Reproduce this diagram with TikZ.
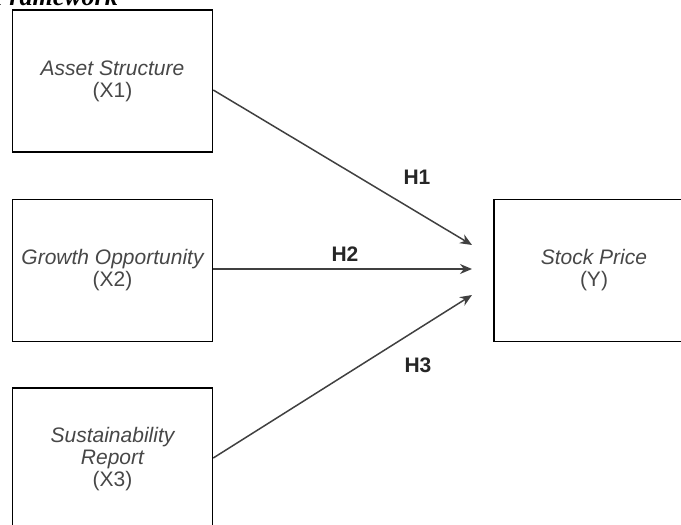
\documentclass[tikz,border=0pt]{standalone}
\usepackage{fontspec}
\setmainfont{Liberation Sans}
\newfontfamily\titlefont{Liberation Serif}
\usetikzlibrary{arrows.meta}

\begin{document}
\begin{tikzpicture}[x=1pt, y=-1pt, >={Stealth[length=12pt,width=10pt]},
  block/.style={draw, line width=1.5pt, minimum width=200pt, minimum height=142pt, align=center,
    text=black!72, font=\itshape\fontsize{21}{22}\selectfont},
  hyp/.style={font=\bfseries\fontsize{21}{23}\selectfont, text=black!85},
  link/.style={->, line width=1.5pt, color=black!75}]

  \useasboundingbox (0,0) rectangle (681,525);
  \clip (0,0) rectangle (681,525);

  % Heading (cut off at the top)
  \node[anchor=base east, inner sep=0pt, font=\titlefont\bfseries\itshape\fontsize{26}{28}\selectfont] (title) at (118,5) {Framework};

  % Independent variables
  \node[block] (X1) at (112.5,81) {Asset Structure\\\upshape(X1)};
  \node[block] (X2) at (112.5,270.5) {Growth Opportunity\\\upshape(X2)};
  \node[block] (X3) at (112.5,459) {Sustainability\\Report\\\upshape(X3)};

  % Dependent variable
  \node[block] (Y) at (594,270.5) {Stock Price\\\upshape(Y)};

  % Arrow ends
  \coordinate (T1) at (472,245);
  \coordinate (T2) at (472,269);
  \coordinate (T3) at (472,295);

  % Hypotheses
  \draw[link] ([yshift=-9pt]X1.east) -- (T1);
  \draw[link] ([yshift=1.5pt]X2.east) -- (T2);
  \draw[link] ([yshift=1pt]X3.east) -- (T3);

  % Labels
  \node[hyp] (H1) at (417,177) {H1};
  \node[hyp] (H2) at (345,254) {H2};
  \node[hyp] (H3) at (418,365) {H3};

\end{tikzpicture}
\end{document}
